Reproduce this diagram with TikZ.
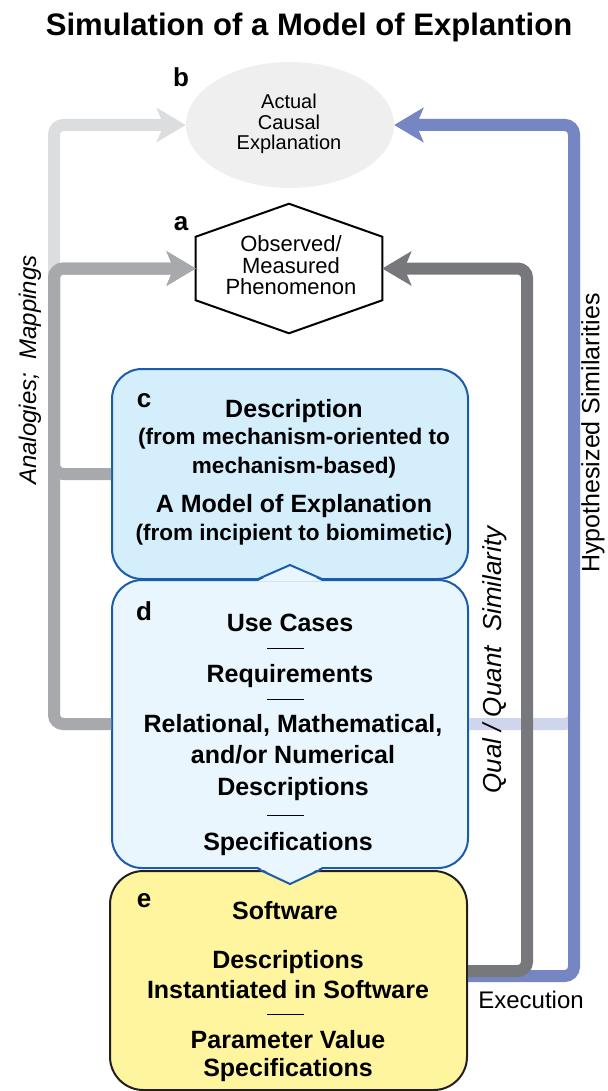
\documentclass[tikz,border=0pt]{standalone}
\usepackage{fontspec}
\setmainfont{Liberation Sans}
\usetikzlibrary{arrows.meta,calc,shapes.geometric}

\definecolor{lgray}{HTML}{DCDDDE}
\definecolor{mgray}{HTML}{A7A9AC}
\definecolor{dgray}{HTML}{77787B}
\definecolor{hblue}{HTML}{7586C3}
\definecolor{pblue}{HTML}{CFD5EC}
\definecolor{efill}{HTML}{EFEFEF}
\definecolor{cfill}{HTML}{D4EEFC}
\definecolor{dfill}{HTML}{E9F6FE}
\definecolor{yfill}{HTML}{FEF59E}
\definecolor{bline}{HTML}{1B5DAB}
\definecolor{eline}{HTML}{231F20}

\newcommand{\fsz}[1]{\fontsize{#1}{#1}\selectfont}

\tikzset{
  conn/.style={line width=9pt, rounded corners=7pt, -{Stealth[length=21.75pt,width=25.5pt,inset=5.25pt]}},
  box/.style={draw=bline, line width=1.5pt, rounded corners=22.5pt, minimum width=267pt, inner sep=0},
  hd/.style={anchor=base, inner sep=0, font=\fsz{18.75pt}\bfseries},
  sub/.style={anchor=base, inner sep=0, font=\fsz{16.9pt}\bfseries},
  lbl/.style={anchor=base, inner sep=0, font=\fsz{19.5pt}\bfseries},
  plain/.style={anchor=base, inner sep=0, font=\fsz{15pt}},
  side/.style={inner sep=0, rotate=90},
  rl/.style={line width=0.6pt}
}

\begin{document}
\begin{tikzpicture}[x=0.75pt,y=-0.75pt]
\useasboundingbox (0,0) rectangle (607,1091);
\node[anchor=base, inner sep=0, font=\fsz{23.3pt}\bfseries] (title) at (309,36) {Simulation of a Model of Explantion};
%
\node[ellipse, fill=efill, minimum width=156pt, minimum height=94.5pt, inner sep=0] (b) at (290,125) {};
\node[plain] (b1) at (289,109) {Actual};
\node[plain] (b2) at (289,130) {Causal};
\node[plain] (b3) at (289,150) {Explanation};
\node[lbl] (lb) at (181,87) {b};
%
\node[minimum width=139.5pt, minimum height=96.75pt, inner sep=0] (a) at (289,268.5) {};
\draw[line width=1.5pt, fill=white] (a.north) -- ($(a.north east)+(0,33)$) -- ($(a.south east)+(0,-33)$) -- (a.south)
  -- ($(a.south west)+(0,-33)$) -- ($(a.north west)+(0,33)$) -- cycle;
\node[plain, font=\fsz{16.5pt}] (a1) at (291,252) {Observed/};
\node[plain, font=\fsz{16.5pt}] (a2) at (291,273) {Measured};
\node[plain, font=\fsz{16.5pt}] (a3) at (291,294) {Phenomenon};
\node[lbl] (la) at (181,230) {a};
%
\node[box, fill=cfill, minimum height=157.5pt] (c) at (290,474) {};
\node[box, draw=eline, fill=yfill, rounded corners=25pt, minimum width=267.75pt, minimum height=164.25pt] (e) at (288.5,980.5) {};
\node[box, fill=dfill, minimum height=216pt] (d) at (290,724) {};
\fill[dfill] ($(d.north)+(-32,2)$) -- ($(d.north)+(0,-14)$) -- ($(d.north)+(32,2)$) -- cycle;
\draw[bline, line width=1.5pt] ($(d.north)+(-32,0)$) -- ($(d.north)+(0,-14)$) -- ($(d.north)+(32,0)$);
\fill[dfill] ($(d.south)+(-32,-2)$) -- ($(d.south)+(0,15)$) -- ($(d.south)+(32,-2)$) -- cycle;
\draw[bline, line width=1.5pt] ($(d.south)+(-32,0)$) -- ($(d.south)+(0,15)$) -- ($(d.south)+(32,0)$);
%
\node[lbl] (lc) at (144,407) {c};
\node[hd] (c1) at (294,417) {Description};
\node[sub] (c2) at (294,444) {(from mechanism-oriented to};
\node[sub] (c3) at (294,473) {mechanism-based)};
\node[hd] (c4) at (294,512) {A Model of Explanation};
\node[sub] (c5) at (294,540) {(from incipient to biomimetic)};
%
\node[lbl] (ld) at (144,620) {d};
\node[hd] (d1) at (290,631) {Use Cases};
\draw[rl] (267,648) -- (304,648);
\node[hd] (d2) at (290,682) {Requirements};
\draw[rl] (267,699) -- (304,699);
\node[hd] (d3) at (293,732) {Relational, Mathematical,};
\node[hd] (d4) at (293,763) {and/or Numerical};
\node[hd] (d5) at (293,795) {Descriptions};
\draw[rl] (267,815) -- (304,815);
\node[hd] (d6) at (288,850) {Specifications};
%
\node[lbl] (le) at (144,907) {e};
\node[hd] (e1) at (285,919) {Software};
\node[hd] (e2) at (288,968) {Descriptions};
\node[hd] (e3) at (288,998) {Instantiated in Software};
\draw[rl] (267,1014) -- (304,1014);
\node[hd] (e4) at (288,1048) {Parameter Value};
\node[hd] (e5) at (288,1076) {Specifications};
%
\draw[conn, lgray] (d.west) -- ++(-57,0) |- (b.west);
\draw[conn, mgray] (d.west) -- ++(-57,0) |- (a.west);
\draw[conn, mgray] (c.west) -- ++(-57,0) |- (a.west);
\draw[conn, pblue] (d.east) -- ++(105,0) |- (b.east);
\draw[conn, hblue] ($(e.east)+(0,-4.5)$) -- ++(106,0) |- (b.east);
\draw[conn, dgray] ($(e.east)+(0,-9.5)$) -- ++(59,0) |- (a.east);
%
\node[side, font=\fsz{18pt}\itshape] (an) at (30,370) {Analogies;\ \ Mappings};
\node[side, font=\fsz{19.5pt}\itshape] (qq) at (495,660) {Qual / Quant\ \ Similarity};
\node[side, font=\fsz{18.75pt}] (hs) at (593,433) {Hypothesized Similarities};
\node[anchor=base, inner sep=0, font=\fsz{18pt}] (ex) at (531,1008) {Execution};
\end{tikzpicture}
\end{document}
